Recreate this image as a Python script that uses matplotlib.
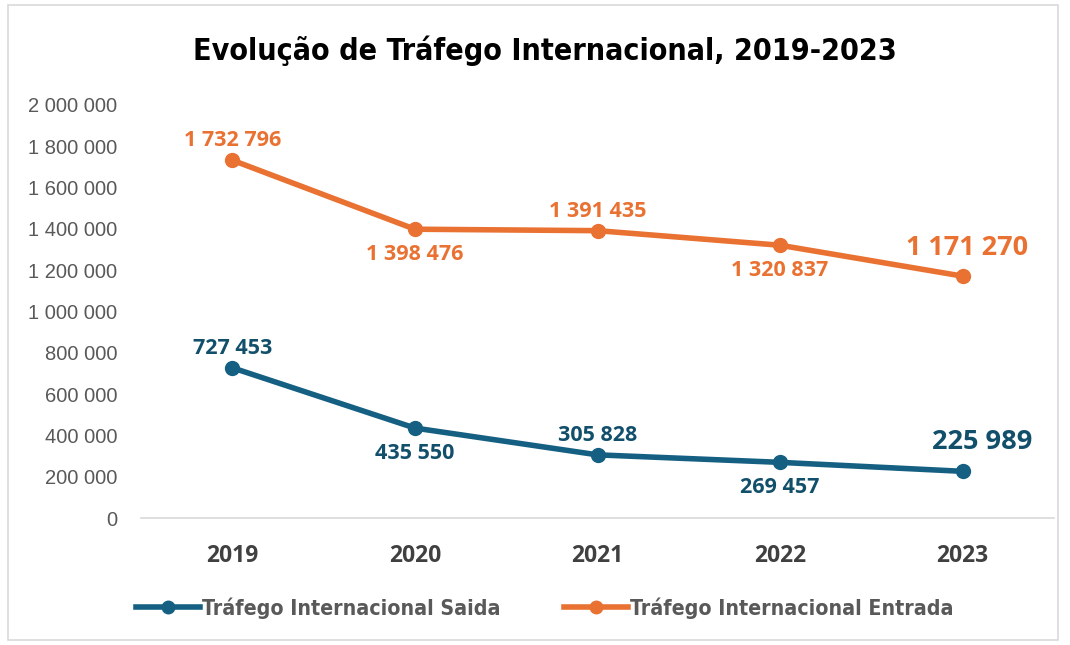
import matplotlib.pyplot as plt
from matplotlib.patches import Rectangle

# Dados
anos = ['2019', '2020', '2021', '2022', '2023']
saida = [727453, 435550, 305828, 269457, 225989]
entrada = [1732796, 1398476, 1391435, 1320837, 1171270]
ticks_y = [0, 200000, 400000, 600000, 800000, 1000000, 1200000,
           1400000, 1600000, 1800000, 2000000]

cor_saida = '#156082'
cor_saida_txt = '#124F6B'
cor_entrada = '#E97132'

def fmt(v):
    return f'{v:,}'.replace(',', ' ')

fig = plt.figure(figsize=(10.7, 6.45), dpi=100)
fig.patches.append(Rectangle((8/1070, 5/645), 1050/1070, 635/645, transform=fig.transFigure,
                             fill=False, edgecolor='#D9D9D9', linewidth=1.2))
ax = fig.add_axes([141/1070, 127/645, 913/1070, 413/645])

x = range(len(anos))
ax.plot(x, saida, color=cor_saida, lw=4, marker='o', ms=10, label='Tráfego Internacional Saida')
ax.plot(x, entrada, color=cor_entrada, lw=4, marker='o', ms=10, label='Tráfego Internacional Entrada')

# rótulos: acima / abaixo alternados, último maior
lado = [1, -1, 1, -1, 1]
fam_rot = ['Open Sans', 'DejaVu Sans']
for i in x:
    if i == len(anos) - 1:
        ax.annotate(fmt(entrada[i]), (i, entrada[i]), xytext=(3, 20), textcoords='offset points',
                    ha='center', va='center', fontsize=19.5, fontweight='bold', color=cor_entrada,
                    family=fam_rot)
        ax.annotate(fmt(saida[i]), (i, saida[i]), xytext=(14, 21), textcoords='offset points',
                    ha='center', va='center', fontsize=19.5, fontweight='bold', color=cor_saida_txt,
                    family=fam_rot)
        continue
    dy = 14 if lado[i] > 0 else -18
    ax.annotate(fmt(entrada[i]), (i, entrada[i]), xytext=(0, dy), textcoords='offset points',
                ha='center', va='center', fontsize=15.5, fontweight='bold', color=cor_entrada,
                family=fam_rot)
    ax.annotate(fmt(saida[i]), (i, saida[i]), xytext=(0, dy), textcoords='offset points',
                ha='center', va='center', fontsize=15.5, fontweight='bold', color=cor_saida_txt,
                family=fam_rot)

ax.set_xlim(-0.5, len(anos) - 0.5)
ax.set_ylim(0, 2000000)
ax.set_xticks(list(x))
ax.set_xticklabels(anos, fontsize=16.5, fontweight='bold', color='#404040',
                   family=fam_rot)
ax.set_yticks(ticks_y)
ax.set_yticklabels([fmt(t) for t in ticks_y], fontsize=14.5, color='#595959',
                   family=['Liberation Sans', 'DejaVu Sans'])
ax.tick_params(axis='both', length=0)
ax.tick_params(axis='x', pad=19)
ax.tick_params(axis='y', pad=17)
for s in ['top', 'right', 'left']:
    ax.spines[s].set_visible(False)
ax.spines['bottom'].set_color('#D9D9D9')
ax.spines['bottom'].set_linewidth(1.2)

fig.text(545/1070, 1 - 51/645, 'Evolução de Tráfego Internacional, 2019-2023',
         ha='center', va='center', fontsize=21.8, fontweight='bold', color='black',
         family='DejaVu Sans', fontstretch='condensed')

leg = fig.legend(loc='center', bbox_to_anchor=(545/1070, 1 - 608/645), ncol=2, frameon=False,
                 prop={'family': 'DejaVu Sans', 'stretch': 'condensed', 'weight': 'bold', 'size': 15.3},
                 handlelength=3, handletextpad=0.1, columnspacing=3, markerscale=0.9)
for t in leg.get_texts():
    t.set_color('#595959')

fig.savefig('out.png', dpi=100)
